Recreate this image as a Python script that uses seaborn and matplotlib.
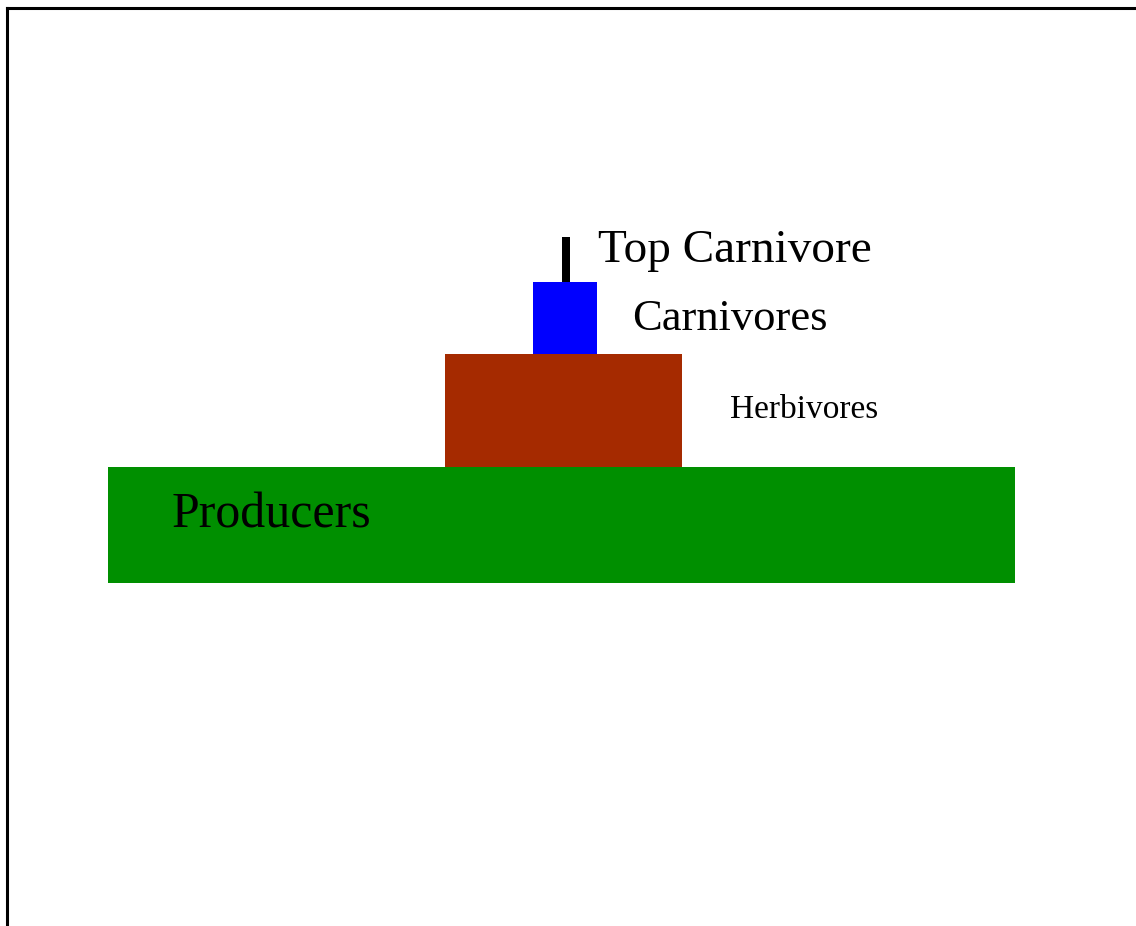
import matplotlib
matplotlib.use("Agg")
import matplotlib.pyplot as plt
import seaborn as sns
import numpy as np

# Trophic levels, bottom to top
levels = ["Producers", "Herbivores", "Carnivores", "Top Carnivore"]
widths = [907, 237, 64, 8]        # relative size of each level (bar width)
heights = [116, 113, 72, 45]      # bar heights
colors = ["#008F00", "#A52A00", "#0000FF", "#000000"]
label_sizes = [36, 24, 32, 34]

sns.set_style("white")
plt.rcParams["font.family"] = ["Liberation Serif", "DejaVu Serif"]

W, H = 1136, 926
fig = plt.figure(figsize=(W / 100, H / 100), dpi=100)
fig.patch.set_facecolor("white")

# frame: left and top lines only
frame = fig.add_axes([7 / W, 0, 1 - 7 / W, 1 - 8 / H])
frame.set_xticks([])
frame.set_yticks([])
for s in ["right", "bottom"]:
    frame.spines[s].set_visible(False)
for s in ["left", "top"]:
    frame.spines[s].set_visible(True)
    frame.spines[s].set_color("black")
    frame.spines[s].set_linewidth(2.2)
frame.patch.set_alpha(0)

ax = fig.add_axes([0, 0, 1, 1])
ax.set_xlim(0, W)
ax.set_ylim(0, H)
ax.axis("off")
ax.patch.set_alpha(0)

centers = [561.5, 563.5, 565, 566]
base = 343
bottoms = base + np.concatenate([[0], np.cumsum(heights)[:-1]])
ax.bar(centers, heights, width=widths, bottom=bottoms,
       color=colors, linewidth=0, align="center")

# labels
label_pos = [(172, 398), (730, 508), (632, 596), (598, 664)]
for lab, (x, y), fs in zip(levels, label_pos, label_sizes):
    ax.text(x, y, lab, fontsize=fs, color="black", ha="left", va="baseline")

fig.savefig("out.png", dpi=100, facecolor="white")
